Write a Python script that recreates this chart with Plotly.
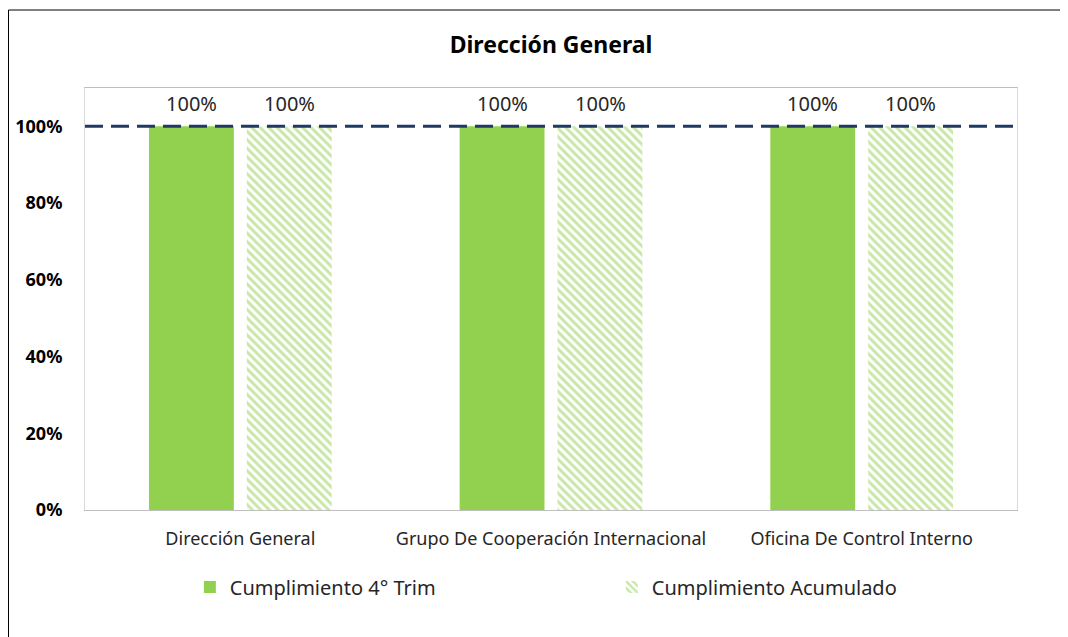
import plotly.graph_objects as go

categories = ["Dirección General", "Grupo De Cooperación Internacional", "Oficina De Control Interno"]
trim_values = [1.0, 1.0, 1.0]
acum_values = [1.0, 1.0, 1.0]
target = 1.0
y_ticks = [0, 0.2, 0.4, 0.6, 0.8, 1.0]

FONT = "Noto Sans"
GREEN = "#92D050"
NAVY = "#1F3864"

fig = go.Figure()
fig.add_trace(go.Bar(
    x=categories, y=trim_values, name="Cumplimiento 4° Trim",
    marker=dict(color=GREEN, line=dict(width=0)),
))
fig.add_trace(go.Bar(
    x=categories, y=acum_values, name="Cumplimiento Acumulado",
    marker=dict(color="white", line=dict(width=0),
                pattern=dict(shape="\\", fgcolor=GREEN, bgcolor="white", size=6, solidity=0.5)),
))

# data labels above each bar (offset to each bar of the group)
for vals, shift in ((trim_values, -49), (acum_values, 49)):
    for c, v in zip(categories, vals):
        fig.add_annotation(x=c, y=v, xref="x", yref="y", text=f"{v:.0%}", showarrow=False,
                           xshift=shift, yshift=23, font=dict(family=FONT, size=20, color="#262626"))

fig.add_shape(type="line", xref="paper", x0=0, x1=1, yref="y", y0=target, y1=target,
              line=dict(color=NAVY, width=3, dash="18px,8px"))
# outer chart border
fig.add_shape(type="rect", xref="paper", yref="paper", x0=-76.5 / 932, x1=1.2, y0=-0.5, y1=1 + 78 / 422,
              line=dict(color="black", width=1), layer="below")

fig.update_layout(
    width=1060, height=629,
    margin=dict(l=77, r=51, t=80, b=127),
    paper_bgcolor="white", plot_bgcolor="white",
    barmode="group", bargap=0.37, bargroupgap=0.133,
    title=dict(text="<b>Dirección General</b>", x=0.5, xref="paper", xanchor="center",
               y=1 - 37 / 629, yanchor="middle", font=dict(family=FONT, size=23, color="black")),
    font=dict(family=FONT, color="black"),
    xaxis=dict(showline=True, linecolor="#BFBFBF", linewidth=1, mirror=True, automargin=False,
               tickfont=dict(family=FONT, size=18, color="#262626"), ticks="",
               ticklabelstandoff=12),
    yaxis=dict(range=[0, 1.1], tickvals=y_ticks, tickformat=".0%", showgrid=False, zeroline=False,
               showline=True, linecolor="#D9D9D9", mirror=True, automargin=False,
               tickfont=dict(family=FONT, size=18, color="black", weight="bold"), ticks="",
               ticklabelstandoff=18),
    legend=dict(orientation="h", x=0.1125, xanchor="left", y=-0.1825, yanchor="middle",
                entrywidth=377, entrywidthmode="pixels",
                font=dict(family=FONT, size=20, color="#262626")),
    showlegend=True,
)
fig.write_html("out.html")
